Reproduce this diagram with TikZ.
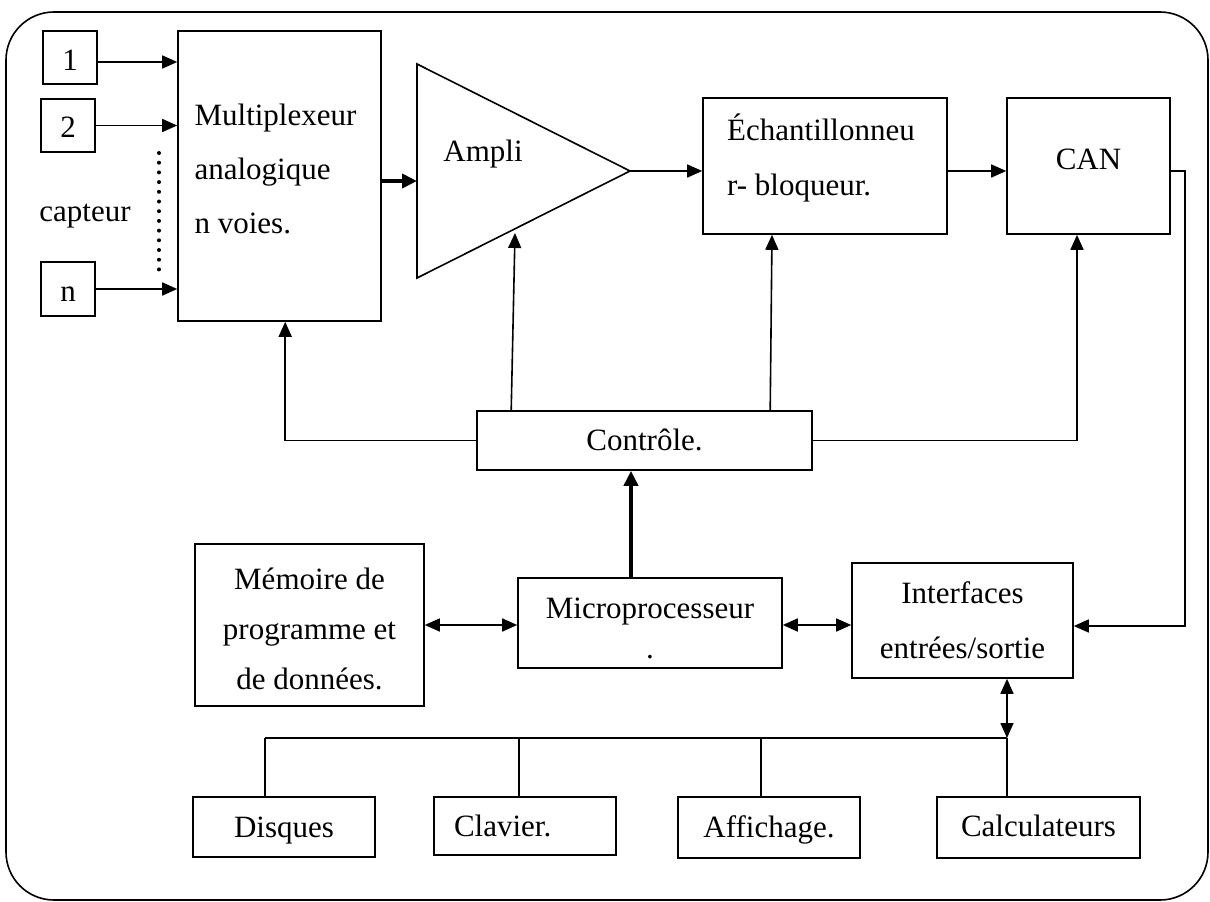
\documentclass[tikz,border=0pt]{standalone}
\usepackage{fontspec}
\setmainfont{Liberation Serif}
\usetikzlibrary{arrows.meta}
\begin{document}
\begin{tikzpicture}[x=1pt,y=-1pt,
  every node/.style={font=\fontsize{31}{54}\selectfont},
  box/.style={draw, line width=1.6pt, inner sep=0pt, rectangle},
  base/.style={text height=#1, text depth=0pt},
  link/.style={line width=1.6pt, -{Triangle[length=15pt,width=13pt]}},
  link2/.style={line width=1.6pt, {Triangle[length=15pt,width=13pt]}-{Triangle[length=15pt,width=13pt]}},
  wire/.style={line width=1.6pt},
  heavy/.style={line width=4pt, -{Triangle[length=15pt,width=14pt]}},
  dots/.style={line width=4pt, line cap=round, dash pattern=on 0pt off 9.7pt},
]
\useasboundingbox (0,0) rectangle (1210,902);

% frame
\draw[line width=1.6pt, rounded corners=48pt] (6,12) rectangle (1208,900);

% sensors
\node[box, base=26pt, minimum width=54pt, minimum height=53pt] (s1) at (70,57.5) {1};
\node[box, base=24pt, minimum width=54pt, minimum height=53pt] (s2) at (68,125.5) {2};
\node[box, base=25pt, minimum width=54pt, minimum height=54pt] (sn) at (68,289) {n};
\node (capt) at (85,216) {capteur};
\coordinate (dotA) at (159,153);
\coordinate (dotB) at (159,270);
\draw[dots] (dotA) -- (dotB);

% acquisition chain
\node[box, minimum width=203pt, minimum height=290pt] (mux) at (279.5,176) {};
\node[align=left] (muxtxt) at ([xshift=-4pt,yshift=7pt]mux.center)
  {Multiplexeur\\analogique\\n voies.};
\coordinate (ampA) at (417,64);
\coordinate (ampB) at (417,278);
\coordinate (ampT) at (630,171);
\coordinate (ampin) at (515,233);
\draw[line width=1.6pt] (ampA) -- (ampT) -- (ampB) -- cycle;
\node (amplbl) at (483,154) {Ampli};
\node[box, minimum width=244pt, minimum height=136pt] (ech) at (825,166) {};
\node[align=left, font=\fontsize{31}{55}\selectfont] (echtxt) at ([xshift=-4pt,yshift=8pt]ech.center)
  {Échantillonneu\\r- bloqueur.};
\node[box, base=6pt, minimum width=163pt, minimum height=136pt] (can) at (1088.5,166) {CAN};

% control
\node[box, base=20pt, minimum width=335pt, minimum height=59pt] (ctrl) at (644.5,440.5) {Contrôle.};

% processing
\node[box, minimum width=229pt, minimum height=162pt] (mem) at (309.5,625) {};
\node[align=center, font=\fontsize{31}{50}\selectfont] (memtxt) at ([yshift=-4pt]mem.center)
  {Mémoire de\\programme et\\de données.};
\node[box, minimum width=264pt, minimum height=90pt] (mp) at (650,623) {};
\node[align=center] (mptxt) at ([yshift=-5pt]mp.center) {Microprocesseur\\[-14pt].};
\node[box, minimum width=221pt, minimum height=115pt, align=center, font=\fontsize{31}{55}\selectfont] (io) at (962.5,620.5)
  {Interfaces\\entrées/sortie};

% peripherals
\node[box, base=20pt, minimum width=182pt, minimum height=60pt] (disq) at (284,827) {Disques};
\node[box, base=21pt, minimum width=182pt, minimum height=58pt, text width=142pt, align=left] (clav) at (525,826) {Clavier.};
\node[box, base=19pt, minimum width=182pt, minimum height=61pt] (aff) at (769,827.5) {Affichage.};
\node[box, base=18pt, minimum width=203pt, minimum height=61pt] (calc) at (1038.5,827.5) {Calculateurs};

% signal path
\draw[link] ([yshift=-4.5pt]s1.east) -- ([yshift=-4.5pt]s1.east -| mux.west);
\draw[link] (s2.east) -- (s2.east -| mux.west);
\draw[link] (sn.east) -- (sn.east -| mux.west);
\coordinate (muxout) at ([yshift=-5pt]mux.east);
\draw[heavy] (muxout) -- (muxout -| ampA);
\draw[link] (ampT) -- (ampT -| ech.west);
\draw[link] ([yshift=-5pt]ech.east) -- ([yshift=-5pt]ech.east -| can.west);
\coordinate (ioin) at ([yshift=-5.5pt]io.east);
\draw[link] ([yshift=-5pt]can.east) -- ++(14,0) |- (ioin);

% control lines
\draw[link] (ctrl.west) -| ([xshift=108pt]mux.south west);
\draw[link] ([xshift=35pt]ctrl.north west) -- (ampin);
\draw[link] ([xshift=294pt]ctrl.north west) -- ([xshift=-53pt]ech.south);
\draw[link] (ctrl.east) -| ([xshift=-11.5pt]can.south);
\draw[heavy] ([xshift=-19pt]mp.north) -- ([xshift=-19pt]mp.north |- ctrl.south);

% data exchanges
\draw[link2] (mem.east) -- (mem.east -| mp.west);
\draw[link2] ([yshift=-2pt]mp.east) -- ([yshift=-2pt]mp.east -| io.west);

% peripheral bus
\coordinate (busL) at (265,738);
\coordinate (bClav) at (519,738);
\coordinate (bAff) at (761,738);
\coordinate (busR) at (1007,738);
\draw[link2] (io.south -| busR) -- (busR);
\draw[wire] (busL) -- (busR);
\draw[wire] (busL) -- (busL |- disq.north);
\draw[wire] (bClav) -- (bClav |- clav.north);
\draw[wire] (bAff) -- (bAff |- aff.north);
\draw[wire] (busR) -- (busR |- calc.north);
\end{tikzpicture}
\end{document}
